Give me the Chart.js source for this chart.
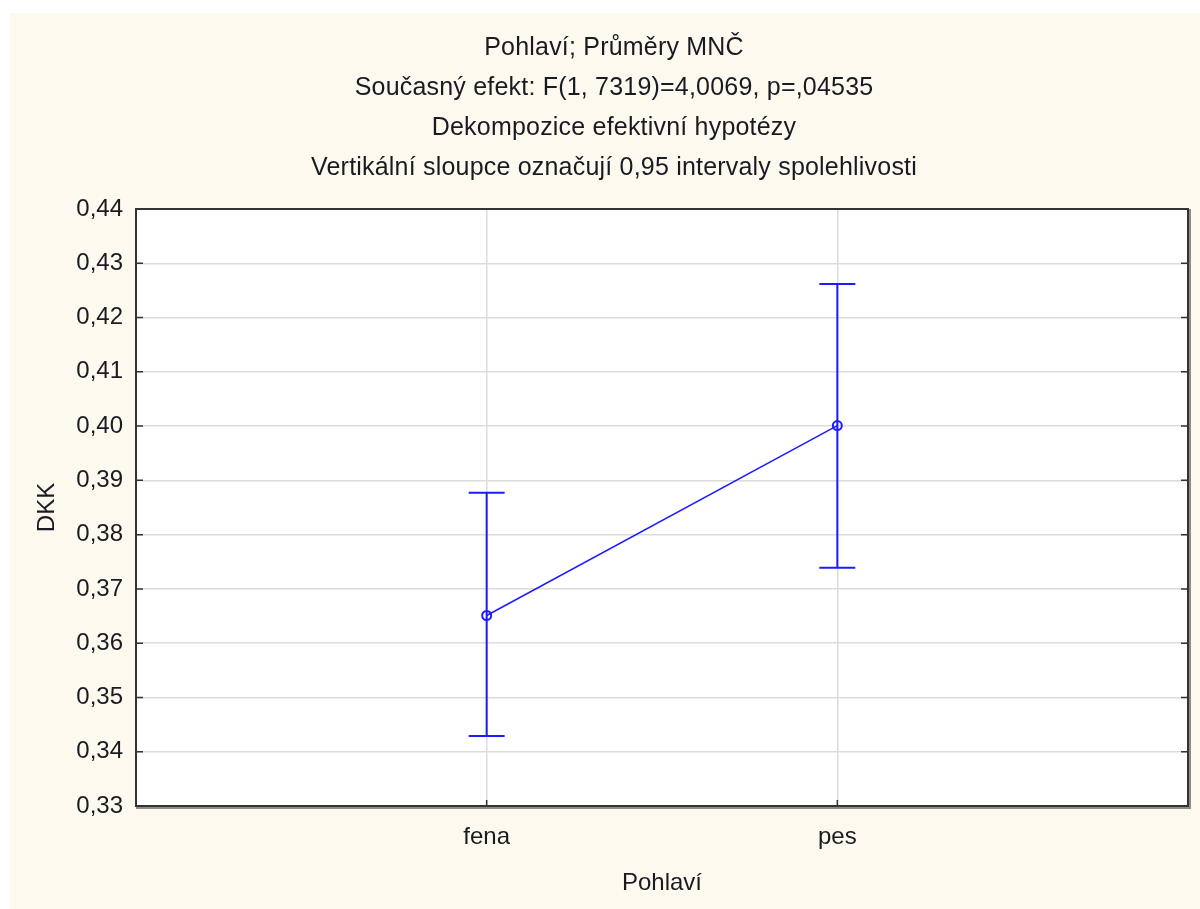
<!DOCTYPE html>
<html>
<head>
<meta charset="utf-8">
<script src="https://cdn.jsdelivr.net/npm/chart.js@4.4.1/dist/chart.umd.min.js"></script>
<style>
    html, body { margin: 0; padding: 0; background: #ffffff; }
    #wrap {
        position: absolute;
        left: 10px;
        top: 13px;
        width: 1190px;
        height: 896px;
        background: #fef9ef;
    }
</style>
</head>
<body>
<div id="wrap"><canvas id="chart" width="1190" height="896"></canvas></div>
<script>
/* ================= DATA ================= */
const categories = ["fena", "pes"];
const means = [0.3651, 0.4001];
const lower = [0.3429, 0.3739];
const upper = [0.3877, 0.4262];
const yTicks = [0.33, 0.34, 0.35, 0.36, 0.37, 0.38, 0.39, 0.40, 0.41, 0.42, 0.43, 0.44];
const titleLines = [
    "Pohlaví; Průměry MNČ",
    "Současný efekt: F(1, 7319)=4,0069, p=,04535",
    "Dekompozice efektivní hypotézy",
    "Vertikální sloupce označují 0,95 intervaly spolehlivosti"
];

const FONT = "'Liberation Sans', Arial, sans-serif";
const TEXT = "#1a1a22";
const BLUE = "#1c1cff";

/* ================= PLUGINS ================= */
// white plot area + title lines
const backdrop = {
    id: "backdrop",
    beforeDraw(chart) {
        const { ctx, chartArea: a } = chart;
        ctx.save();
        ctx.fillStyle = "#ffffff";
        ctx.fillRect(a.left, a.top, a.right - a.left, a.bottom - a.top);

        ctx.fillStyle = TEXT;
        ctx.font = "25px " + FONT;
        ctx.letterSpacing = "0.2px";
        ctx.textAlign = "center";
        ctx.textBaseline = "alphabetic";
        const baselines = [42, 82, 122, 162];
        titleLines.forEach((t, i) => ctx.fillText(t, 604, baselines[i]));
        ctx.restore();
    }
};

// border, inner ticks, error bars
const frame = {
    id: "frame",
    afterDatasetsDraw(chart) {
        const { ctx, chartArea: a, scales } = chart;
        const x = scales.x, y = scales.y;
        ctx.save();

        // error bars
        ctx.strokeStyle = BLUE;
        ctx.lineWidth = 2;
        categories.forEach((c, i) => {
            const px = x.getPixelForValue(i + 1);
            const top = y.getPixelForValue(upper[i]);
            const bot = y.getPixelForValue(lower[i]);
            ctx.beginPath();
            ctx.moveTo(px, top); ctx.lineTo(px, bot);
            ctx.moveTo(px - 18, top); ctx.lineTo(px + 18, top);
            ctx.moveTo(px - 18, bot); ctx.lineTo(px + 18, bot);
            ctx.stroke();
        });

        // shadow on right and bottom
        ctx.strokeStyle = "#8c8c8c";
        ctx.lineWidth = 2;
        ctx.beginPath();
        ctx.moveTo(a.right + 2, a.top);
        ctx.lineTo(a.right + 2, a.bottom + 2);
        ctx.lineTo(a.left, a.bottom + 2);
        ctx.stroke();

        // border
        ctx.strokeStyle = "#333333";
        ctx.lineWidth = 2;
        ctx.strokeRect(a.left, a.top, a.right - a.left, a.bottom - a.top);

        // inner ticks
        ctx.lineWidth = 1.5;
        yTicks.forEach(v => {
            const py = y.getPixelForValue(v);
            ctx.beginPath();
            ctx.moveTo(a.left, py); ctx.lineTo(a.left + 7, py);
            ctx.moveTo(a.right, py); ctx.lineTo(a.right - 7, py);
            ctx.stroke();
        });
        categories.forEach((c, i) => {
            const px = x.getPixelForValue(i + 1);
            ctx.beginPath();
            ctx.moveTo(px, a.bottom); ctx.lineTo(px, a.bottom - 6);
            ctx.stroke();
        });
        ctx.restore();
    }
};

/* ================= CHART ================= */
new Chart(document.getElementById("chart"), {
    type: "line",
    data: {
        datasets: [{
            data: means.map((m, i) => ({ x: i + 1, y: m })),
            borderColor: BLUE,
            borderWidth: 1.5,
            pointRadius: 4.5,
            pointBorderWidth: 2,
            pointBackgroundColor: "rgba(255,255,255,0)",
            pointBorderColor: BLUE,
            tension: 0
        }]
    },
    options: {
        responsive: false,
        animation: false,
        layout: { padding: { left: 0, right: 12, top: 196, bottom: 0 } },
        plugins: {
            legend: { display: false },
            tooltip: { enabled: false },
            title: { display: false }
        },
        scales: {
            x: {
                type: "linear",
                min: 0,
                max: categories.length + 1,
                afterBuildTicks: s => { s.ticks = categories.map((c, i) => ({ value: i + 1 })); },
                afterFit: s => { s.height = 103; },
                ticks: {
                    callback: v => categories[v - 1],
                    color: TEXT,
                    font: { family: FONT, size: 24 },
                    padding: 17,
                    maxRotation: 0
                },
                grid: { color: "#dcdcdc", lineWidth: 1.5, drawTicks: false },
                border: { display: false },
                title: {
                    display: true,
                    text: "Pohlaví",
                    color: TEXT,
                    font: { family: FONT, size: 24 },
                    padding: { top: 0, bottom: 11 }
                }
            },
            y: {
                min: 0.33,
                max: 0.44,
                afterBuildTicks: s => { s.ticks = yTicks.map(v => ({ value: v })); },
                afterFit: s => { s.width = 126; },
                ticks: {
                    callback: v => v.toFixed(2).replace(".", ","),
                    color: TEXT,
                    font: { family: FONT, size: 24 },
                    padding: 13
                },
                grid: { color: "#dcdcdc", lineWidth: 1.5, drawTicks: false },
                border: { display: false },
                title: {
                    display: true,
                    text: "DKK",
                    color: TEXT,
                    font: { family: FONT, size: 24 },
                    padding: { top: 23, bottom: 0 }
                }
            }
        }
    },
    plugins: [backdrop, frame]
});
</script>
</body>
</html>
